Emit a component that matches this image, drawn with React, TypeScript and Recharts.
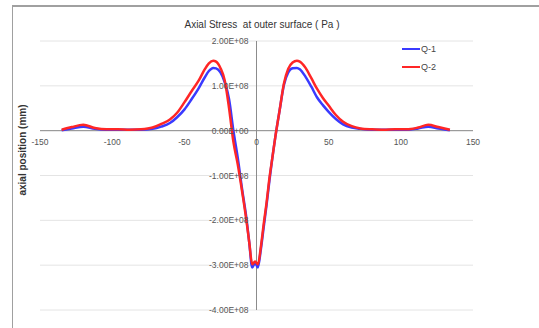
import { LineChart, Line, XAxis, YAxis, CartesianGrid, ReferenceLine } from 'recharts';

// axial position (mm)
const X_POS = [
  -135, -128, -120, -112, -104, -96, -88, -80, -72, -66, -60, -55, -50, -45, -40, -36, -33, -30, -28, -25, -22,
  -19, -16, -13, -10, -7, -5, -3, -1, 1, 3, 5, 7, 9, 11, 13, 16, 19, 22, 25, 28, 30, 34, 38, 42, 46, 50, 55, 60,
  66, 72, 80, 88, 96, 104, 112, 119, 126, 134,
];

// axial stress, in units of 1E+08 Pa
const Q1 = [
  0.01, 0.05, 0.09, 0.04, 0.02, 0.02, 0.02, 0.02, 0.04, 0.09, 0.17, 0.3, 0.47, 0.7, 0.95, 1.18, 1.33, 1.4, 1.39, 1.3,
  1.08, 0.7, 0.0, -0.6, -1.3, -1.95, -2.5, -3.05, -2.95, -3.05, -2.65, -2.15, -1.65, -1.1, -0.6, -0.15, 0.45, 1.02,
  1.3, 1.39, 1.4, 1.37, 1.2, 0.98, 0.74, 0.57, 0.42, 0.26, 0.14, 0.07, 0.04, 0.02, 0.02, 0.02, 0.02, 0.05, 0.09,
  0.05, 0.01,
];

const Q2 = [
  0.02, 0.08, 0.13, 0.06, 0.03, 0.03, 0.02, 0.03, 0.07, 0.15, 0.25, 0.4, 0.63, 0.88, 1.12, 1.36, 1.5, 1.56, 1.54,
  1.4, 1.12, 0.5, -0.25, -0.75, -1.35, -2.0, -2.5, -2.98, -2.92, -2.98, -2.6, -2.08, -1.6, -1.05, -0.6, -0.15, 0.45,
  1.05, 1.38, 1.52, 1.56, 1.54, 1.4, 1.17, 0.93, 0.73, 0.56, 0.35, 0.2, 0.1, 0.05, 0.03, 0.02, 0.03, 0.03, 0.07,
  0.13, 0.08, 0.02,
];

const X_TICKS = [-150, -100, -50, 0, 50, 100, 150];
const Y_TICKS = [-4e8, -3e8, -2e8, -1e8, 0, 1e8, 2e8];

const data = X_POS.map((x, i) => ({ x, q1: Q1[i] * 1e8, q2: Q2[i] * 1e8 }));

const W = 539;
const H = 328;
const M = { top: 41, right: 66, bottom: 17, left: 39 };
const PW = W - M.left - M.right - 1;
const PH = H - M.top - M.bottom - 1;
const ZERO_X = M.left + 1 + ((0 - X_TICKS[0]) / (X_TICKS[X_TICKS.length - 1] - X_TICKS[0])) * PW;
const ZERO_Y = M.top + ((Y_TICKS[Y_TICKS.length - 1] - 0) / (Y_TICKS[Y_TICKS.length - 1] - Y_TICKS[0])) * PH;

const FONT = '"Liberation Sans", Arial, sans-serif';

const sci = (v: number) => {
  if (v === 0) return '0.00E+00';
  const e = Math.floor(Math.log10(Math.abs(v)));
  const m = v / Math.pow(10, e);
  const es = String(Math.abs(e)).padStart(2, '0');
  return `${m.toFixed(2)}E${e >= 0 ? '+' : '-'}${es}`;
};

const xTick = (props: any) => {
  const { x, payload } = props;
  return (
    <text key={`xt-${payload.value}`} x={x} y={ZERO_Y + 14} textAnchor="middle" fontSize={8.5} fill="#555" fontFamily={FONT}>
      {payload.value}
    </text>
  );
};

const yTick = (props: any) => {
  const { y, payload } = props;
  return (
    <text key={`yt-${payload.value}`} x={ZERO_X - 8} y={y + 3} textAnchor="end" fontSize={8.5} fill="#555" fontFamily={FONT}>
      {sci(payload.value)}
    </text>
  );
};

const SERIES = [
  { key: 'q1', name: 'Q-1', color: '#3a3aff' },
  { key: 'q2', name: 'Q-2', color: '#ff2626' },
];

export default function App() {
  return (
    <div style={{ position: 'absolute', left: 0, top: 0, width: W, height: H, background: '#fff', overflow: 'hidden' }}>
      <div
        style={{
          position: 'absolute',
          left: 12,
          top: 5,
          width: W,
          height: H,
          borderLeft: '1.5px solid #a0a0a0',
          borderTop: '2px solid #a0a0a0',
        }}
      />
      <div
        style={{
          position: 'absolute',
          left: 0,
          top: 19,
          width: 524,
          textAlign: 'center',
          fontFamily: FONT,
          fontSize: 10,
          color: '#333',
        }}
      >
        Axial Stress&nbsp; at outer surface ( Pa )
      </div>
      <div
        style={{
          position: 'absolute',
          left: 22,
          top: 150,
          transform: 'translate(-50%, -50%) rotate(-90deg)',
          whiteSpace: 'nowrap',
          fontFamily: FONT,
          fontSize: 10,
          fontWeight: 'bold',
          color: '#333',
        }}
      >
        axial position (mm)
      </div>
      <LineChart width={W} height={H} data={data} margin={M} style={{ position: 'absolute', left: 0, top: 0 }}>
        <CartesianGrid vertical={false} stroke="#e4e4e4" />
        <XAxis
          type="number"
          dataKey="x"
          domain={[-150, 150]}
          ticks={X_TICKS}
          height={1}
          axisLine={false}
          tickLine={false}
          tick={xTick}
          interval={0}
        />
        <YAxis
          type="number"
          domain={[-4e8, 2e8]}
          ticks={Y_TICKS}
          width={1}
          axisLine={false}
          tickLine={false}
          tick={yTick}
          interval={0}
        />
        <ReferenceLine y={0} stroke="#8c8c8c" strokeWidth={1} />
        <ReferenceLine x={0} stroke="#8c8c8c" strokeWidth={1} />
        {SERIES.map((s) => (
          <Line
            key={s.key}
            type="monotone"
            dataKey={s.key}
            name={s.name}
            stroke={s.color}
            strokeWidth={2.5}
            dot={false}
            isAnimationActive={false}
          />
        ))}
      </LineChart>
      <div style={{ position: 'absolute', left: 402, top: 40, fontFamily: FONT, fontSize: 9, color: '#444' }}>
        {SERIES.map((s) => (
          <div key={s.name} style={{ display: 'flex', alignItems: 'center', height: 18 }}>
            <span style={{ display: 'inline-block', width: 18, height: 2.5, background: s.color }} />
            <span style={{ marginLeft: 1 }}>{s.name}</span>
          </div>
        ))}
      </div>
    </div>
  );
}
